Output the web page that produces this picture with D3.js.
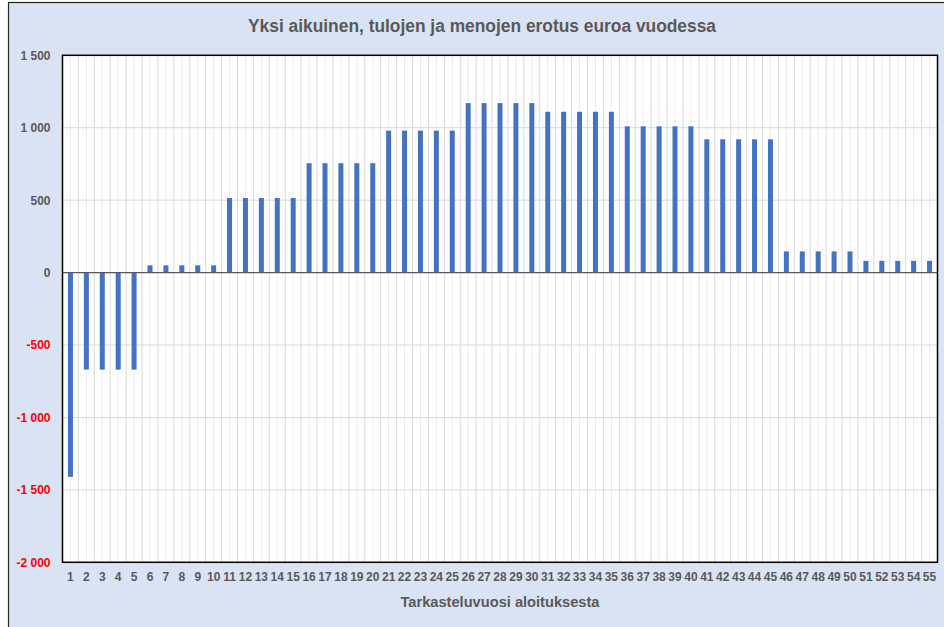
<!DOCTYPE html>
<html>
<head>
<meta charset="utf-8">
<script src="https://cdn.jsdelivr.net/npm/d3@7"></script>
<style>
  html, body { margin: 0; padding: 0; background: #ffffff; }
  svg { display: block; }
</style>
</head>
<body>
<svg id="chart" width="944" height="627"></svg>
<script>
// ---- data ----
const categories = d3.range(1, 56).map(String);
const values = [
  -1410, -670, -670, -670, -670,
  50, 50, 50, 50, 50,
  515, 515, 515, 515, 515,
  755, 755, 755, 755, 755,
  980, 980, 980, 980, 980,
  1170, 1170, 1170, 1170, 1170,
  1110, 1110, 1110, 1110, 1110,
  1010, 1010, 1010, 1010, 1010,
  920, 920, 920, 920, 920,
  146, 146, 146, 146, 146,
  81, 81, 81, 81, 81
];
const yTicks = [1500, 1000, 500, 0, -500, -1000, -1500, -2000];
const titleText = "Yksi aikuinen, tulojen ja menojen erotus euroa vuodessa";
const xTitleText = "Tarkasteluvuosi aloituksesta";

// ---- layout ----
const W = 944, H = 627;
const plot = { left: 62.5, right: 937.5, top: 55.3, bottom: 562.3 };
const svg = d3.select("#chart");
const font = "'Liberation Sans', Arial, sans-serif";

// chart area background
svg.append("rect").attr("x", 8.5).attr("y", 2.5).attr("width", W).attr("height", H)
  .attr("fill", "#DAE3F3").attr("stroke", "#262626").attr("stroke-width", 1.2);

const x = d3.scaleBand().domain(categories).range([plot.left, plot.right]).paddingInner(0).paddingOuter(0);
const y = d3.scaleLinear().domain([-2000, 1500]).range([plot.bottom, plot.top]);

// plot area
svg.append("rect").attr("x", plot.left).attr("y", plot.top)
  .attr("width", plot.right - plot.left).attr("height", plot.bottom - plot.top)
  .attr("fill", "#ffffff");

// vertical gridlines: minor at category centers, major at boundaries
const gV = svg.append("g");
categories.forEach((c, i) => {
  const cx = x(c) + x.bandwidth() / 2;
  gV.append("line").attr("x1", cx).attr("x2", cx).attr("y1", plot.top).attr("y2", plot.bottom)
    .attr("stroke", "#EDEDED").attr("stroke-width", 1);
  if (i > 0) {
    const bx = x(c);
    gV.append("line").attr("x1", bx).attr("x2", bx).attr("y1", plot.top).attr("y2", plot.bottom)
      .attr("stroke", "#D9D9D9").attr("stroke-width", 1);
  }
});

// horizontal gridlines
svg.append("g").selectAll("line").data(yTicks).join("line")
  .attr("x1", plot.left).attr("x2", plot.right)
  .attr("y1", d => y(d)).attr("y2", d => y(d))
  .attr("stroke", "#D9D9D9").attr("stroke-width", 1);

// bars
const barW = 5;
svg.append("g").selectAll("rect").data(values).join("rect")
  .attr("x", (d, i) => x(categories[i]) + x.bandwidth() / 2 - barW / 2)
  .attr("width", barW)
  .attr("y", d => y(Math.max(0, d)))
  .attr("height", d => Math.abs(y(d) - y(0)))
  .attr("fill", "#4472C4");

// zero line
svg.append("line").attr("x1", plot.left).attr("x2", plot.right)
  .attr("y1", y(0)).attr("y2", y(0)).attr("stroke", "#595959").attr("stroke-width", 1.2);

// plot border
svg.append("rect").attr("x", plot.left).attr("y", plot.top)
  .attr("width", plot.right - plot.left).attr("height", plot.bottom - plot.top)
  .attr("fill", "none").attr("stroke", "#000000").attr("stroke-width", 1.5);

// y axis labels
const fmt = v => {
  const s = d3.format(",")(Math.abs(v)).replace(/,/g, " ");
  return (v < 0 ? "-" : "") + s;
};
const yAxis = d3.axisLeft(y).tickValues(yTicks).tickSize(0).tickPadding(12).tickFormat(fmt);
const gy = svg.append("g").attr("transform", `translate(${plot.left},0)`).call(yAxis);
gy.select(".domain").remove();
gy.selectAll("text")
  .attr("font-family", font).attr("font-size", 12).attr("font-weight", "bold")
  .attr("fill", d => d < 0 ? "#FF0000" : "#595959");

// x axis labels
const xAxis = d3.axisBottom(x).tickSize(0).tickPadding(10);
const gx = svg.append("g").attr("transform", `translate(0,${plot.bottom})`).call(xAxis);
gx.select(".domain").remove();
gx.selectAll("text")
  .attr("font-family", font).attr("font-size", 12).attr("font-weight", "bold")
  .attr("fill", "#595959");

// title
svg.append("text").attr("x", 482).attr("y", 32).attr("text-anchor", "middle")
  .attr("font-family", font).attr("font-size", 17.5).attr("font-weight", "bold")
  .attr("fill", "#595959")
  .attr("textLength", 468).attr("lengthAdjust", "spacingAndGlyphs")
  .text(titleText);

// x axis title
svg.append("text").attr("x", 500).attr("y", 607).attr("text-anchor", "middle")
  .attr("font-family", font).attr("font-size", 15.5).attr("font-weight", "bold")
  .attr("fill", "#595959")
  .attr("textLength", 199).attr("lengthAdjust", "spacingAndGlyphs")
  .text(xTitleText);
</script>
</body>
</html>
